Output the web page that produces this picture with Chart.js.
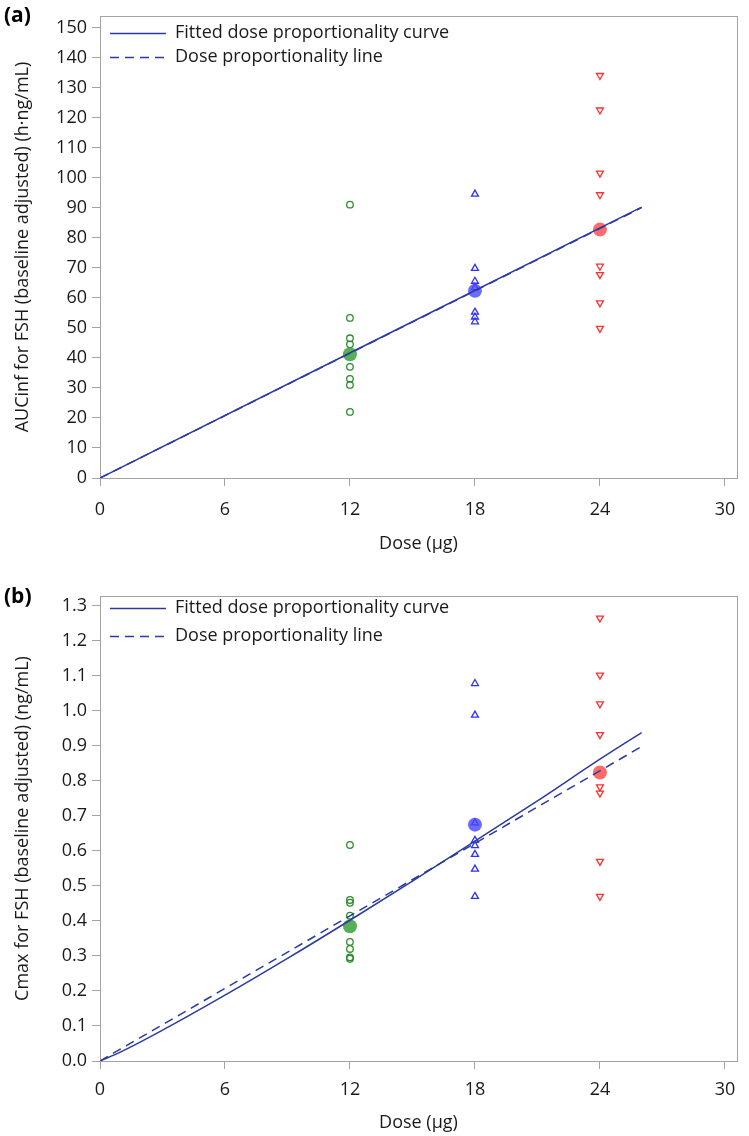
<!DOCTYPE html>
<html>
<head>
<meta charset="utf-8">
<script src="https://cdn.jsdelivr.net/npm/chart.js@4.4.1/dist/chart.umd.min.js"></script>
<style>
  html, body { margin: 0; padding: 0; background: #fff; overflow: hidden; }
  #wrap { position: relative; width: 749px; height: 1136px; }
  canvas { position: absolute; left: 0; }
</style>
</head>
<body>
<div id="wrap">
  <canvas id="chartA" width="749" height="560" style="top:0"></canvas>
  <canvas id="chartB" width="749" height="579" style="top:560px"></canvas>
</div>
<script>
/* dose proportionality plots: AUCinf (a) and Cmax (b) for FSH */

const xTicks = [0, 6, 12, 18, 24, 30];
const aucTicks = [0, 10, 20, 30, 40, 50, 60, 70, 80, 90, 100, 110, 120, 130, 140, 150];
const cmaxTicks = [0, 0.1, 0.2, 0.3, 0.4, 0.5, 0.6, 0.7, 0.8, 0.9, 1.0, 1.1, 1.2, 1.3];

const groupDoses = [12, 18, 24];

// panel (a) individual AUCinf values per dose group
const aucLow = [91.0, 53.3, 46.5, 44.5, 37.0, 33.0, 31.0, 22.0];
const aucMid = [94.5, 69.8, 65.5, 63.4, 55.2, 53.6, 52.0];
const aucHigh = [134.0, 122.5, 101.5, 94.3, 70.5, 67.7, 58.3, 49.8];
const aucMeans = [41.2, 62.3, 82.7];
const aucFitDose = [0, 26];
const aucFit = [0, 90.2];
const aucPropDose = [0, 26];
const aucProp = [0, 90.0];

// panel (b) individual Cmax values per dose group
const cmaxLow = [0.617, 0.460, 0.452, 0.415, 0.340, 0.320, 0.296, 0.292];
const cmaxMid = [1.078, 0.988, 0.680, 0.630, 0.615, 0.590, 0.548, 0.470];
const cmaxHigh = [1.265, 1.102, 1.020, 0.932, 0.783, 0.765, 0.570, 0.470];
const cmaxMeans = [0.385, 0.675, 0.824];
const cmaxFitDose = [0, 1, 3, 6, 9, 12, 15, 18, 21, 24, 26];
const cmaxFit = [0, 0.026, 0.088, 0.188, 0.293, 0.402, 0.514, 0.628, 0.743, 0.862, 0.938];
const cmaxPropDose = [0, 26];
const cmaxProp = [0, 0.898];

const LINE = '#2b3a9f';
const FONT = '"Open Sans", "Noto Sans", sans-serif';
const AXIS_GREY = '#a3a3a3';

Chart.defaults.font.family = FONT;
Chart.defaults.font.size = 18;
Chart.defaults.color = '#1a1a1a';

const pts = (xs, ys) => ys.map((y, i) => ({ x: Array.isArray(xs) ? xs[i] : xs, y }));

const framePlugin = {
  id: 'frame',
  beforeDatasetsDraw(chart) {
    const { ctx, chartArea: a } = chart;
    ctx.save();
    ctx.strokeStyle = AXIS_GREY; ctx.lineWidth = 1;
    ctx.strokeRect(Math.round(a.left) + 0.5, Math.round(a.top) + 0.5, Math.round(a.right - a.left), Math.round(a.bottom - a.top));
    ctx.restore();
  },
  afterDraw(chart, args, opts) {
    const { ctx, chartArea: a } = chart;
    ctx.save();
    ctx.fillStyle = '#000';
    ctx.textBaseline = 'middle';
    ctx.font = 'bold 21px ' + FONT;
    ctx.fillText(opts.tag, 4, opts.tagY);
    // legend, inside the plot area top-left
    const rows = [{ text: 'Fitted dose proportionality curve', dash: [] },
                  { text: 'Dose proportionality line', dash: [9, 6] }];
    ctx.font = '18px ' + FONT;
    rows.forEach((r, i) => {
      const y = a.top + opts.legendY[i];
      ctx.strokeStyle = LINE; ctx.lineWidth = 1.5; ctx.setLineDash(r.dash);
      ctx.beginPath(); ctx.moveTo(a.left + 10, y + 0.5); ctx.lineTo(a.left + 66, y + 0.5); ctx.stroke();
      ctx.setLineDash([]);
      ctx.fillStyle = '#1a1a1a';
      ctx.fillText(r.text, a.left + 75, y);
    });
    ctx.restore();
  }
};

function makeChart(id, cfg) {
  const openPt = (color, style, rot) => ({
    type: 'scatter', pointStyle: style, rotation: rot || 0, pointRadius: style === 'circle' ? 3.3 : 4,
    pointBorderWidth: 1.3, borderColor: color, pointBorderColor: color, backgroundColor: 'rgba(0,0,0,0)', pointBackgroundColor: 'rgba(0,0,0,0)'
  });
  const meanPt = (color) => ({
    type: 'scatter', pointStyle: 'circle', pointRadius: 7, pointBorderWidth: 0,
    pointBackgroundColor: color, backgroundColor: color
  });
  return new Chart(document.getElementById(id), {
    type: 'scatter',
    data: { datasets: [
      { type: 'line', label: 'Fitted dose proportionality curve', data: pts(cfg.fitDose, cfg.fit), borderColor: LINE, borderWidth: 1.5, pointRadius: 0, fill: false, tension: 0.3, cubicInterpolationMode: 'monotone' },
      { type: 'line', label: 'Dose proportionality line', data: pts(cfg.propDose, cfg.prop), borderColor: LINE, borderWidth: 1.5, borderDash: [9, 6], pointRadius: 0, fill: false },
      { label: 'Mean 12', data: pts(groupDoses[0], [cfg.means[0]]), ...meanPt('rgba(60,160,60,0.85)') },
      { label: 'Mean 18', data: pts(groupDoses[1], [cfg.means[1]]), ...meanPt('rgba(70,70,255,0.8)') },
      { label: 'Mean 24', data: pts(groupDoses[2], [cfg.means[2]]), ...meanPt('rgba(255,80,80,0.85)') },
      { label: '12 µg', data: pts(groupDoses[0], cfg.low), ...openPt('#2e8b2e', 'circle') },
      { label: '18 µg', data: pts(groupDoses[1], cfg.mid), ...openPt('#2f2fff', 'triangle') },
      { label: '24 µg', data: pts(groupDoses[2], cfg.high), ...openPt('#ff3030', 'triangle', 180) },
    ]},
    options: {
      responsive: false, animation: false,
      layout: { padding: { top: cfg.padTop, right: 12, left: 0, bottom: 0 } },
      plugins: { legend: { display: false }, tooltip: { enabled: false },
        frame: { tag: cfg.tag, tagY: cfg.tagY, legendY: cfg.legendY } },
      scales: {
        x: { type: 'linear', min: 0, max: 30.58,
          afterFit: s => { s.height = cfg.xHeight; },
          afterBuildTicks: s => { s.ticks = xTicks.map(v => ({ value: v })); },
          border: { display: false },
          grid: { drawOnChartArea: false, drawTicks: true, tickLength: 8, color: AXIS_GREY },
          ticks: { padding: cfg.xTickPad, maxRotation: 0, font: { size: 18 }, color: '#1a1a1a' },
          title: { display: true, text: 'Dose (µg)', font: { size: 18 }, color: '#1a1a1a', padding: { top: 0, bottom: cfg.xTitlePad } } },
        y: { type: 'linear', min: 0, max: cfg.yMax,
          afterFit: s => { s.width = 100; },
          afterBuildTicks: s => { s.ticks = cfg.yTicks.map(v => ({ value: v })); },
          border: { display: false },
          grid: { drawOnChartArea: false, drawTicks: true, tickLength: 8, color: AXIS_GREY },
          ticks: { padding: 5, font: { size: 18 }, color: '#1a1a1a', callback: cfg.fmt },
          title: { display: true, text: cfg.yTitle, font: { size: 18 }, color: '#1a1a1a', padding: { top: 12, bottom: 0 } } }
      }
    },
    plugins: [framePlugin]
  });
}

makeChart('chartA', {
  tag: '(a)', tagY: 16, legendY: [17, 41], padTop: 16, xHeight: 82, xTitlePad: 5, xTickPad: 13,
  yMax: 153.8, yTicks: aucTicks, fmt: v => String(v),
  yTitle: 'AUCinf for FSH (baseline adjusted) (h·ng/mL)',
  low: aucLow, mid: aucMid, high: aucHigh, means: aucMeans,
  fitDose: aucFitDose, fit: aucFit, propDose: aucPropDose, prop: aucProp
});

makeChart('chartB', {
  tag: '(b)', tagY: 37, legendY: [12, 40], padTop: 36, xHeight: 78, xTitlePad: 5, xTickPad: 10,
  yMax: 1.328, yTicks: cmaxTicks, fmt: v => v.toFixed(1),
  yTitle: 'Cmax for FSH (baseline adjusted) (ng/mL)',
  low: cmaxLow, mid: cmaxMid, high: cmaxHigh, means: cmaxMeans,
  fitDose: cmaxFitDose, fit: cmaxFit, propDose: cmaxPropDose, prop: cmaxProp
});
</script>
</body>
</html>
